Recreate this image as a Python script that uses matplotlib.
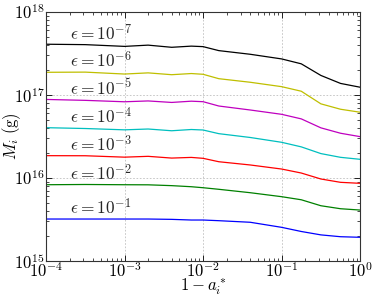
import numpy as np
import matplotlib
matplotlib.use("Agg")
import matplotlib.pyplot as plt
from matplotlib.ticker import FuncFormatter, LogLocator

plt.rcParams["mathtext.fontset"] = "cm"
plt.rcParams["font.family"] = "serif"
plt.rcParams["font.serif"] = ["DejaVu Serif"]

# log10(1 - a*) sample points
log_x = [-4, -3.5, -3, -2.7, -2.4, -2.15, -2, -1.8, -1.4, -1, -0.75, -0.5, -0.25, 0]

# log10(M_i / g), one row per epsilon
logm_e7 = [17.611, 17.606, 17.585, 17.600, 17.574, 17.588, 17.582, 17.534, 17.490, 17.434, 17.375, 17.235, 17.139, 17.093]
logm_e6 = [17.273, 17.275, 17.252, 17.266, 17.244, 17.258, 17.249, 17.196, 17.153, 17.100, 17.045, 16.893, 16.828, 16.792]
logm_e5 = [16.946, 16.935, 16.918, 16.928, 16.910, 16.925, 16.919, 16.867, 16.819, 16.767, 16.712, 16.604, 16.539, 16.498]
logm_e4 = [16.606, 16.596, 16.580, 16.590, 16.569, 16.584, 16.578, 16.534, 16.488, 16.430, 16.375, 16.294, 16.249, 16.225]
logm_e3 = [16.269, 16.268, 16.251, 16.261, 16.240, 16.248, 16.237, 16.196, 16.157, 16.108, 16.060, 15.988, 15.948, 15.936]
logm_e2 = [15.919, 15.922, 15.919, 15.918, 15.908, 15.895, 15.883, 15.864, 15.823, 15.775, 15.738, 15.666, 15.630, 15.614]
logm_e1 = [15.506, 15.506, 15.506, 15.506, 15.502, 15.494, 15.494, 15.486, 15.467, 15.406, 15.356, 15.315, 15.293, 15.286]

curves = [logm_e7, logm_e6, logm_e5, logm_e4, logm_e3, logm_e2, logm_e1]
eps_exp = [-7, -6, -5, -4, -3, -2, -1]
colors = ["k", (0.75, 0.75, 0), (0.75, 0, 0.75), (0, 0.75, 0.75), "r", (0, 0.5, 0), "b"]

fig = plt.figure(figsize=(3.74, 2.98), dpi=100)
ax = fig.add_axes([0.123, 0.124, 0.840, 0.836])

x = 10 ** np.array(log_x)
for lm, e, c in zip(curves, eps_exp, colors):
    ax.plot(x, 10 ** np.array(lm), color=c, lw=0.9)
    ax.text(10 ** -3.7, 10 ** (lm[0] + 0.008), r"$\epsilon = 10^{%d}$" % e,
            fontsize=12.5, color="0.15", va="bottom", ha="left")

ax.set_xscale("log")
ax.set_yscale("log")
ax.set_xlim(1e-4, 1)
ax.set_ylim(1e15, 1e18)

fmt = FuncFormatter(lambda v, p: r"$10^{%d}$" % round(np.log10(v)))
ax.xaxis.set_major_formatter(fmt)
ax.yaxis.set_major_formatter(fmt)
ax.xaxis.set_major_locator(LogLocator(base=10, numticks=10))
ax.yaxis.set_major_locator(LogLocator(base=10, numticks=10))

ax.tick_params(which="both", direction="in", top=True, right=True, labelsize=12)
ax.tick_params(which="major", length=4, width=0.6)
ax.tick_params(which="minor", length=2, width=0.5)
ax.tick_params(axis="x", pad=1)
ax.tick_params(axis="y", pad=1)
ax.grid(True, which="major", color="0.75", ls=(0, (2, 2)), lw=0.6)

for s in ax.spines.values():
    s.set_linewidth(0.8)
    s.set_color("0.2")

ax.set_xlabel(r"$1 - a_i^*$", fontsize=12)
ax.set_ylabel(r"$M_i\ (\mathrm{g})$", fontsize=12)
ax.xaxis.set_label_coords(0.5, -0.064)
ax.yaxis.set_label_coords(-0.074, 0.5)

fig.savefig("out.png", dpi=100)
